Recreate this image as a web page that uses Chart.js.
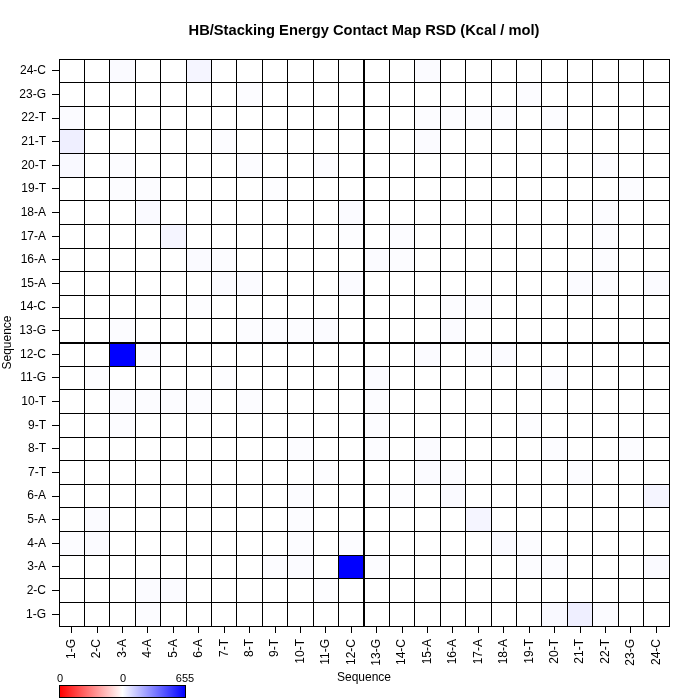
<!DOCTYPE html>
<html>
<head>
<meta charset="utf-8">
<script src="https://cdn.jsdelivr.net/npm/chart.js@4.4.1/dist/chart.umd.min.js"></script>
<style>
body{margin:0;background:#fff;font-family:"Liberation Sans",Arial,sans-serif;}
#wrap{position:relative;width:700px;height:700px;}
#title{position:absolute;top:22px;left:0;width:728px;text-align:center;font-weight:bold;font-size:14.7px;color:#000;}
#bar{position:absolute;left:59px;top:685px;width:125px;height:11px;border:1px solid #000;
background:linear-gradient(to right,#ff0000,#ffffff 50%,#0000ff);}
.lab{position:absolute;top:672px;font-size:11px;color:#000;transform:translateX(-50%);}
</style>
</head>
<body>
<div id="wrap">
<canvas id="chart" width="700" height="700"></canvas>
<div id="title">HB/Stacking Energy Contact Map RSD (Kcal / mol)</div>
<div id="bar"></div>
<div class="lab" style="left:60px">0</div>
<div class="lab" style="left:123px">0</div>
<div class="lab" style="left:185px">655</div>
</div>
<script>

const seq=["1-G","2-C","3-A","4-A","5-A","6-A","7-T","8-T","9-T","10-T","11-G","12-C",
"13-G","14-C","15-A","16-A","17-A","18-A","19-T","20-T","21-T","22-T","23-G","24-C"];

const scaleMax=655;

// rsd[r] = row r+1 (y axis), one value per column 1..24
const rsd=[
[0,0,0,8,0,0,0,0,0,0,0,0,0,0,0,0,0,0,0,15,40,10,0,0],
[0,0,0,10,10,0,0,0,0,0,6,0,0,0,0,0,0,0,0,0,0,0,0,0],
[0,0,0,0,0,0,0,0,8,10,0,655,8,0,0,0,0,0,8,8,0,0,0,12],
[8,10,0,0,0,0,0,0,0,8,0,8,0,0,0,0,0,12,8,0,0,0,0,0],
[0,10,0,0,0,0,0,0,0,8,0,0,0,0,0,0,25,0,0,0,0,0,0,0],
[0,0,0,0,0,0,0,0,0,8,0,0,0,6,0,12,0,0,0,0,0,0,0,25],
[0,0,0,0,0,0,0,0,0,0,6,0,0,0,10,8,0,0,0,0,8,0,0,0],
[0,0,0,0,0,0,0,0,0,8,0,0,8,0,10,0,0,0,0,8,0,0,8,0],
[0,0,8,0,0,0,0,0,0,0,0,0,8,0,0,0,0,0,6,0,0,0,0,0],
[0,0,10,8,8,8,0,8,0,0,0,0,8,0,0,0,0,0,0,0,0,0,0,0],
[0,6,0,0,0,0,6,0,0,0,0,0,10,0,0,0,0,0,0,8,0,0,0,0],
[0,0,655,8,0,0,0,0,0,0,0,0,0,0,10,0,6,10,0,0,0,0,0,0],
[0,0,8,0,0,0,0,8,8,8,10,0,0,0,0,10,0,0,0,0,0,0,0,0],
[0,0,0,0,0,6,0,0,0,0,0,0,0,0,0,8,8,0,0,0,0,0,0,0],
[0,0,0,0,0,0,10,10,0,0,0,10,0,0,0,0,0,0,0,0,10,8,0,10],
[0,0,0,0,0,12,8,0,0,0,0,0,10,8,0,0,0,0,0,0,0,8,0,0],
[0,0,0,0,25,0,0,0,0,0,0,6,0,8,0,0,0,0,0,0,0,8,0,0],
[0,0,0,12,0,0,0,0,0,0,0,10,0,0,0,0,0,0,0,0,0,8,0,0],
[0,0,8,8,0,0,0,0,6,0,0,0,0,0,0,0,0,0,0,0,0,0,8,0],
[15,0,8,0,0,0,0,8,0,0,8,0,0,0,0,0,0,0,0,0,0,8,0,0],
[40,0,0,0,0,0,8,0,0,0,0,0,0,0,10,0,0,0,0,0,0,0,0,0],
[10,0,0,0,0,0,0,0,0,0,0,0,0,0,8,8,8,8,0,8,0,0,0,0],
[0,0,0,0,0,0,0,8,0,0,0,0,0,0,0,0,0,0,8,0,0,0,0,0],
[0,0,12,0,0,25,0,0,0,0,0,0,0,0,10,0,0,0,0,0,0,0,0,0]
];

function cellColor(v){
const f=Math.max(0,Math.min(1,v/scaleMax));
const c=Math.round(255*(1-f));
return `rgb(${c},${c},255)`;
}

const tickVals=[];
for(let i=0;i<=seq.length*2;i++) tickVals.push(0.5+i*0.5);

// ticks sit every half unit, so the bar ruler sees half a cell; percentage 2 fills the cell
const datasets=rsd.map((row,r)=>({
data:row.map((v,c)=>({x:c+1,y:[r+0.5,r+1.5]})),
backgroundColor:row.map(cellColor),
borderWidth:0,
grouped:false,
barPercentage:2,
categoryPercentage:1
}));

const isCenter=ctx=>ctx.tick!==undefined&&Number.isInteger(ctx.tick.value);

function axis(isX){
return {
type:"linear",
min:0.5,
max:seq.length+0.5,
offset:false,
afterBuildTicks:a=>{a.ticks=tickVals.map(v=>({value:v}));},
afterFit:a=>{ if(isX) a.height=60; else a.width=59; },
border:{display:true,color:"#000",width:1,z:2},
grid:{
z:1,
offset:false,
color:ctx=>isCenter(ctx)?"rgba(0,0,0,0)":"#000",
lineWidth:ctx=>(ctx.tick&&ctx.tick.value===12.5)?2:1,
tickColor:ctx=>isCenter(ctx)?"#000":"rgba(0,0,0,0)",
tickWidth:1,
tickLength:7
},
ticks:{
autoSkip:false,
padding:6,
color:"#000",
font:{family:"Liberation Sans",size:12},
minRotation:isX?90:0,
maxRotation:isX?90:0,
callback:v=>Number.isInteger(v)?seq[v-1]:""
},
title:{
display:true,
text:"Sequence",
color:"#000",
font:{family:"Liberation Sans",size:12},
padding:{top:0,bottom:1}
}
};
}

new Chart(document.getElementById("chart"),{
type:"bar",
data:{datasets:datasets},
options:{
responsive:false,
animation:false,
layout:{padding:{top:59,right:31,bottom:14,left:0}},
plugins:{legend:{display:false},tooltip:{enabled:false}},
scales:{
x:axis(true),
y:axis(false)
}
}
});

</script>
</body>
</html>
